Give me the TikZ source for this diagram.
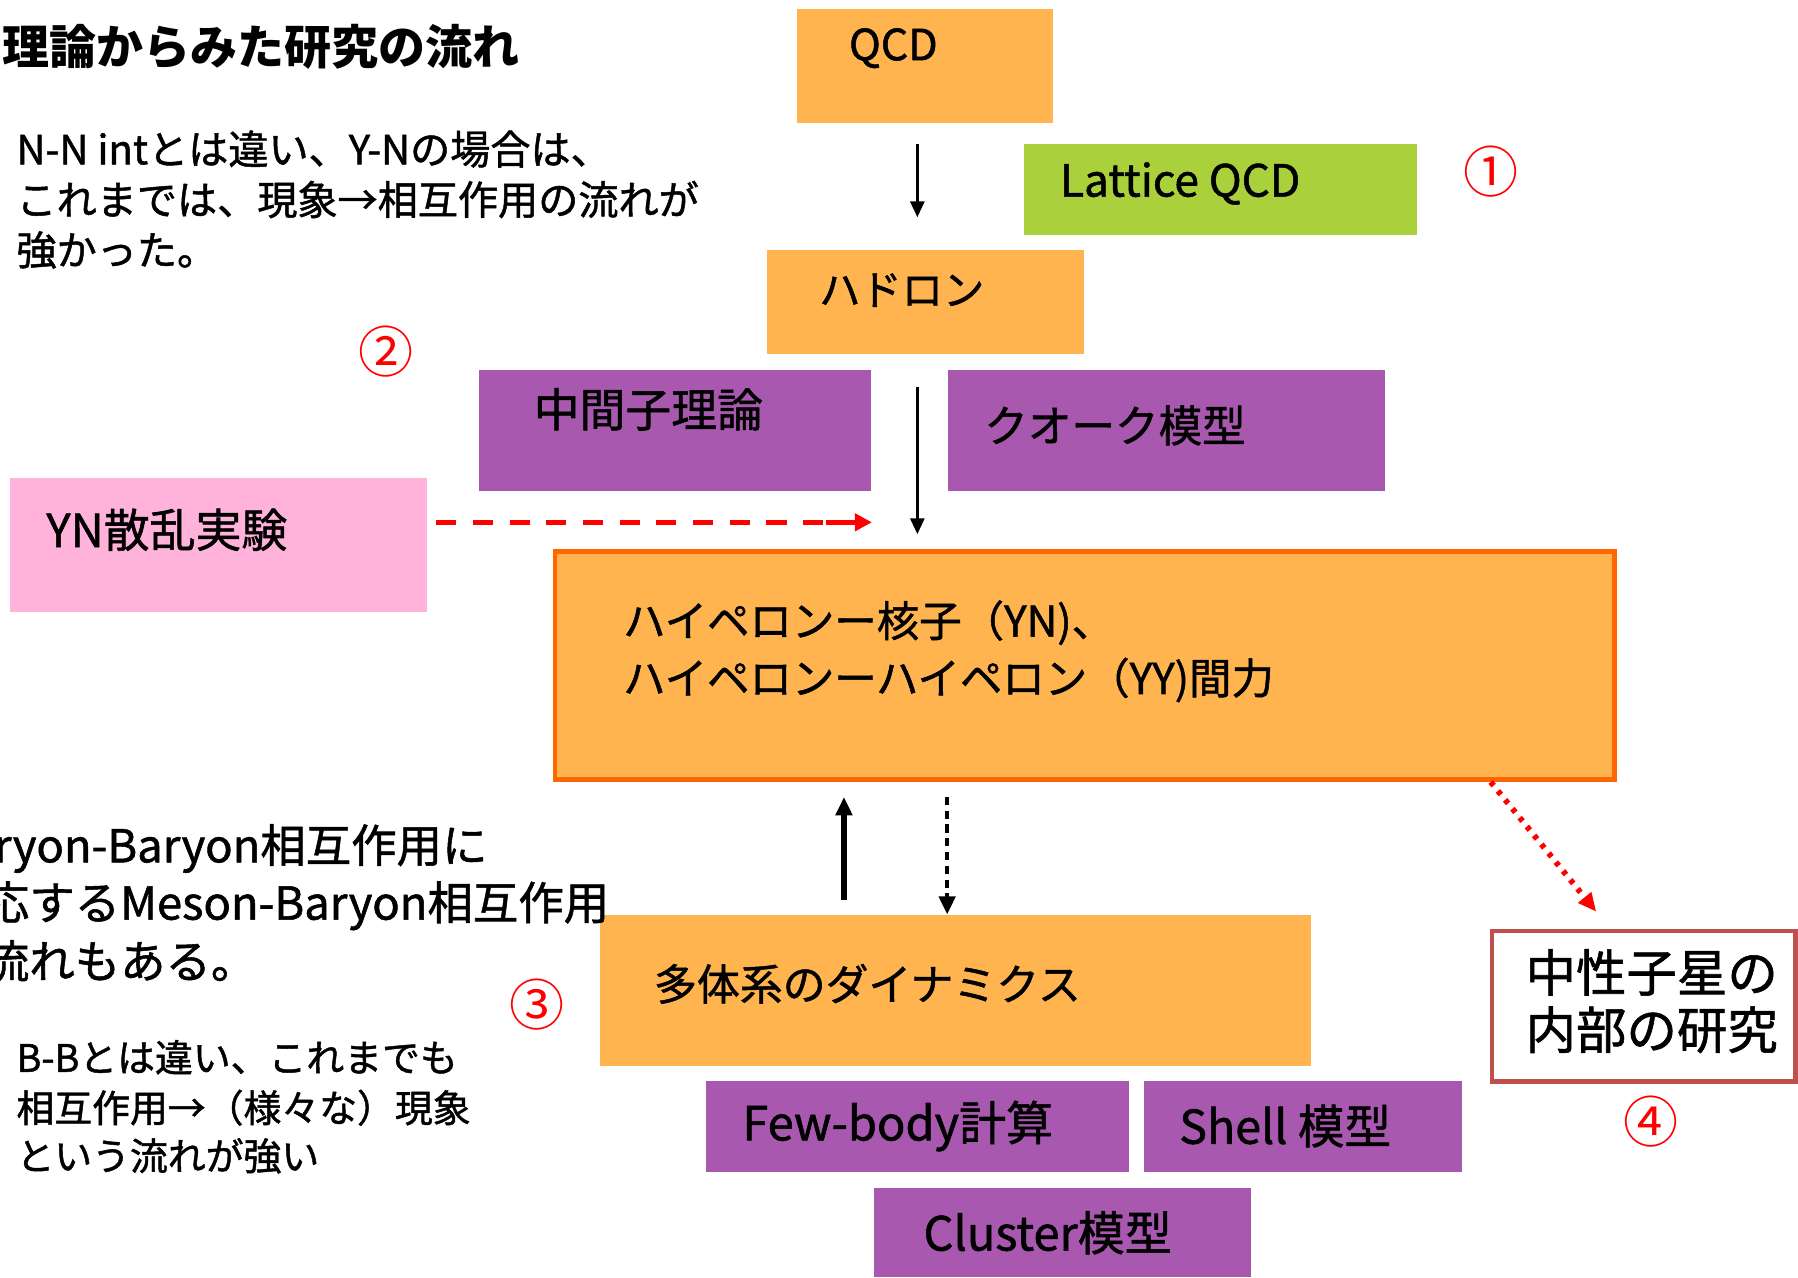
\documentclass[tikz,border=0pt]{standalone}
\usepackage{fontspec}
\newfontfamily\jp[UprightFeatures={FakeBold=1.2}]{Noto Sans CJK JP}
\newfontfamily\jpthin{Noto Sans CJK JP}
\usetikzlibrary{arrows.meta}
\newcommand\myfs[1]{\fontsize{#1}{#1}\selectfont}
\definecolor{orfill}{RGB}{255,180,80}
\definecolor{orline}{RGB}{255,102,0}
\definecolor{pufill}{RGB}{168,88,174}
\definecolor{pkfill}{RGB}{255,178,218}
\definecolor{grfill}{RGB}{170,208,60}
\definecolor{nsline}{RGB}{192,80,77}
\definecolor{myred}{RGB}{255,0,0}
\begin{document}
\begin{tikzpicture}[x=0.5pt,y=-0.5pt,
  boxo/.style={fill=orfill, draw=none, inner sep=0},
  boxp/.style={fill=pufill, draw=none, inner sep=0},
  lbl/.style={inner sep=0, anchor=west, font=\jp},
  num/.style={inner sep=0, font=\jpthin\myfs{24pt}, text=myred},
  arr/.style={-{Triangle[length=7pt,width=6pt]}, line width=1.5pt},
  arrb/.style={-{Triangle[length=8pt,width=7pt]}, line width=2pt}
]
\useasboundingbox (0,0) rectangle (1568,1114);

% boxes
\node[boxo, minimum width=111.5pt, minimum height=49.5pt] (qcd) at (806.5,57.5) {};
\node[fill=grfill, inner sep=0, minimum width=171.5pt, minimum height=39.5pt] (lat) at (1064.5,165.5) {};
\node[boxo, minimum width=138pt, minimum height=45.5pt] (had) at (807,263.5) {};
\node[boxp, minimum width=171pt, minimum height=52.5pt] (mes) at (589,375.5) {};
\node[boxp, minimum width=190.5pt, minimum height=52.5pt] (qrk) at (1017.5,375.5) {};
\node[fill=pkfill, inner sep=0, minimum width=181.5pt, minimum height=58.5pt] (yn) at (190.5,475.5) {};
\node[boxo, draw=orline, line width=2pt, minimum width=462pt, minimum height=99.5pt] (main) at (946,580.5) {};
\node[boxo, minimum width=310pt, minimum height=66pt] (dyn) at (833,864) {};
\node[fill=white, draw=nsline, line width=2pt, inner sep=0, minimum width=132.5pt, minimum height=65.5pt] (ns) at (1433.5,877.5) {};
\node[boxp, minimum width=184.5pt, minimum height=39.5pt] (few) at (800.5,982.5) {};
\node[boxp, minimum width=138.5pt, minimum height=39.5pt] (shell) at (1136.5,982.5) {};
\node[boxp, minimum width=164.5pt, minimum height=39pt] (clu) at (926.5,1075) {};

% box labels
\node[lbl, font=\jp\myfs{18.7pt}] (tqcd) at (740,42) {QCD};
\node[lbl, font=\jp\myfs{19.3pt}] (tlat) at (924,160) {Lattice QCD};
\node[lbl, font=\jp\myfs{18pt}] (thad) at (714,253) {ハドロン};
\node[lbl, font=\jp\myfs{20pt}] (tmes) at (465,357) {中間子理論};
\node[lbl, font=\jp\myfs{19pt}] (tqrk) at (858,371) {クオーク模型};
\node[lbl, font=\jp\myfs{20pt}] (tyn) at (40,462) {YN散乱実験};
\node[lbl, font=\jp\myfs{18.5pt}] (tmain1) at (543,543) {ハイペロンー核子（YN)、};
\node[lbl, font=\jp\myfs{18.5pt}] (tmain2) at (543,593) {ハイペロンーハイペロン（YY)間力};
\node[lbl, font=\jp\myfs{18.7pt}] (tdyn) at (570,858) {多体系のダイナミクス};
\node[lbl, font=\jp\myfs{22pt}] (tns1) at (1330,848) {中性子星の};
\node[lbl, font=\jp\myfs{22pt}] (tns2) at (1330,898) {内部の研究};
\node[lbl, font=\jp\myfs{20.5pt}] (tfew) at (647,982) {Few-body計算};
\node[lbl, font=\jp\myfs{20.3pt}] (tshell) at (1028,982) {Shell 模型};
\node[lbl, font=\jp\myfs{20.5pt}] (tclu) at (805,1075) {Cluster模型};

% circled numbers
\node[num] (n1) at (1300,150) {①};
\node[num] (n2) at (337,307) {②};
\node[num] (n3) at (468,876) {③};
\node[num] (n4) at (1440,978) {④};

% free texts
\node[lbl, font=\jp\bfseries\myfs{20.5pt}] (title) at (2,41) {理論からみた研究の流れ};
\node[lbl, font=\jp\myfs{17.5pt}] (p1a) at (14,130) {N-N intとは違い、Y-Nの場合は、};
\node[lbl, font=\jp\myfs{17.5pt}] (p1b) at (14,174) {これまでは、現象→相互作用の流れが};
\node[lbl, font=\jp\myfs{17.5pt}] (p1c) at (14,218) {強かった。};
\node[lbl, font=\jp\myfs{19.8pt}] (p2a) at (-54,740) {Baryon-Baryon相互作用に};
\node[lbl, font=\jp\myfs{19.8pt}] (p2b) at (-54,790) {対応するMeson-Baryon相互作用};
\node[lbl, font=\jp\myfs{19.8pt}] (p2c) at (-54,838) {の流れもある。};
\node[lbl, font=\jp\myfs{16.5pt}] (p3a) at (14,922) {B-Bとは違い、これまでも};
\node[lbl, font=\jp\myfs{16.5pt}] (p3b) at (14,966) {相互作用→（様々な）現象};
\node[lbl, font=\jp\myfs{16.5pt}] (p3c) at (14,1008) {という流れが強い};

% connectors
\draw[arr, shorten <=9pt, shorten >=14pt] ([xshift=-3.25pt]qcd.south) -- ([xshift=-3.5pt]had.north);
\draw[arr, shorten <=14pt, shorten >=6.5pt] ([xshift=-3.5pt]had.south) -- ([xshift=-3.5pt]had.south |- main.north);

\coordinate (ynout) at ([xshift=4pt,yshift=10pt]yn.east);
\coordinate (ynmid) at ([xshift=-20pt]ynout -| mes.east);
\draw[myred, line width=2.2pt, dash pattern=on 8.75pt off 7.25pt] (ynout) -- (ynmid);
\draw[myred, line width=2.2pt, -{Triangle[length=7.5pt,width=7.5pt]}] (ynmid) -- (ynout -| mes.east);

\draw[arrb, line width=2.3pt, shorten <=6.5pt, shorten >=6.5pt] ([xshift=-48.5pt]dyn.north) -- ([xshift=-48.5pt]dyn.north |- main.south);
\draw[arrb, dash pattern=on 3.5pt off 2.5pt, shorten <=6.5pt] ([xshift=-3.5pt]dyn.north |- main.south) -- ([xshift=-3.5pt]dyn.north);

\draw[myred, line width=2.5pt, dash pattern=on 2pt off 3pt, -{Triangle[length=8pt,width=7pt]}]
  ([xshift=177pt]main.south) -- ([xshift=-20.75pt,yshift=7.5pt]ns.north);
\end{tikzpicture}
\end{document}
